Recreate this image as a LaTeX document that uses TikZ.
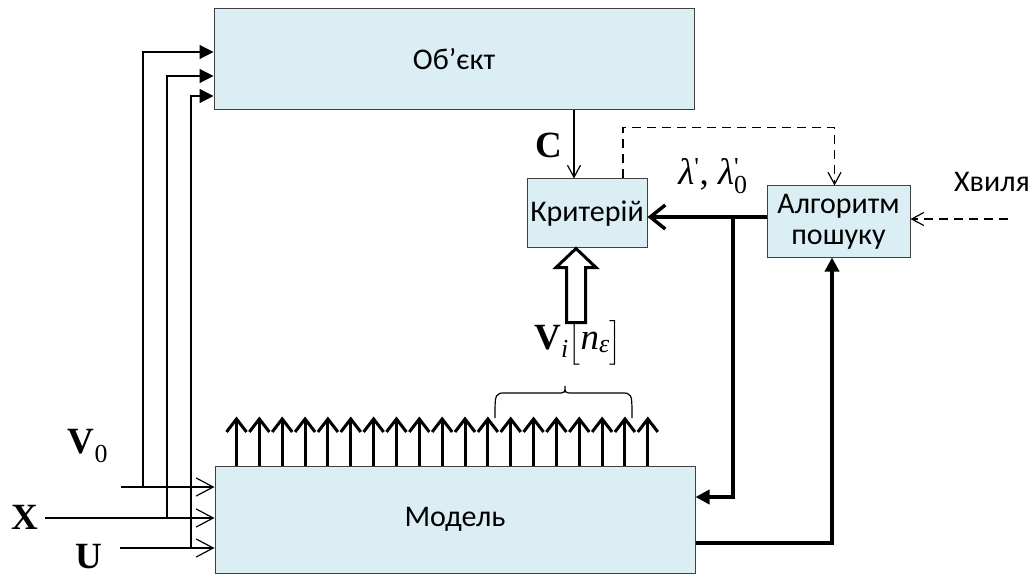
\documentclass[tikz,border=0pt]{standalone}
\usepackage{amsmath}
\usepackage{fontspec}
\setmainfont{Carlito}
\newfontfamily\tnr{Liberation Serif}
\usetikzlibrary{arrows.meta}
\definecolor{boxfill}{HTML}{DAEEF3}
\definecolor{boxline}{HTML}{404040}
\tikzset{
blk/.style={draw=boxline,fill=boxfill,line width=1pt,inner sep=0pt,font=\fontsize{30}{31}\selectfont},
lbl/.style={inner sep=0pt,font=\tnr\fontsize{37}{40}\selectfont},
wire/.style={line width=1.2pt},
bus/.style={line width=3.5pt},
dashline/.style={dash pattern=on 9pt off 6pt},
fin/.style={-{Triangle[length=14pt,width=14pt]}},
vin/.style={-{Straight Barb[length=17pt,width=18pt]}},
vsm/.style={-{Straight Barb[length=12pt,width=13pt]}},
vbig/.style={-{Straight Barb[length=15pt,width=24pt]}},
outarr/.style={line width=3pt,-{Straight Barb[length=13pt,width=20pt]}}
}
\begin{document}
\begin{tikzpicture}[x=1pt,y=-1pt]
\useasboundingbox (0,0) rectangle (1035,577);
\node[blk,minimum width=480pt,minimum height=101pt] (obj) at (454,59.5) {Об’єкт};
\node[blk,minimum width=120pt,minimum height=69pt] (crit) at (587,213.5) {Критерій};
\node[blk,minimum width=143pt,minimum height=71pt,align=center] (alg) at (838.5,221.5) {Алгоритм\\пошуку};
\node[blk,minimum width=480pt,minimum height=107pt] (model) at (455,519.5) {Модель};
\node[lbl] (lV0) at (88,446) {\textbf{V}\textsubscript{0}};
\node[lbl] (lX) at (25,517) {\textbf{X}};
\node[lbl] (lU) at (89,557) {\textbf{U}};
\node[lbl] (lC) at (549,145) {\textbf{C}};
\node[lbl] (llam) at (713,176) {\textit{λ}\textsuperscript{\textquotesingle}, \textit{λ}\rlap{\textsuperscript{\textquotesingle}}\textsubscript{0}};
\node[lbl] (lVi) at (578,343) {\textbf{V}\textsubscript{\textit{i}}$\Big[$\textit{n}\textsubscript{\textit{ε}}$\Big]$};
\node[inner sep=0pt,font=\fontsize{30}{31}\selectfont] (lwave) at (992,182) {Хвиля};
\coordinate (sV0) at (121,487);
\coordinate (sX) at (45,518);
\coordinate (sU) at (120,548);
\coordinate (jV0) at (143,487);
\coordinate (jX) at (167,518);
\coordinate (jU) at (191,548);
\draw[wire,vin] (sV0) -- (sV0 -| model.west);
\draw[wire,vin] (sX) -- (sX -| model.west);
\draw[wire,vin] (sU) -- (sU -| model.west);
\draw[wire,fin] (jV0) |- ([yshift=7.5pt]obj.west);
\draw[wire,fin] (jX) |- ([yshift=-16.5pt]obj.west);
\draw[wire,fin] (jU) |- ([yshift=-36.5pt]obj.west);
\draw[wire,vsm] ([xshift=-13pt]crit.north |- obj.south) -- ([xshift=-13pt]crit.north);
\draw[wire,dashline,vsm] ([xshift=36pt]crit.north) -- ++(0,-51) -| ([xshift=-4pt]alg.north);
\draw[bus,vbig] ([yshift=4.5pt]alg.west) -- ([yshift=4.5pt]alg.west -| crit.east);
\coordinate (jn) at (733,217);
\draw[bus,fin] (jn) |- ([yshift=22.5pt]model.east);
\draw[bus,fin] ([yshift=-23.5pt]model.east) -| ([xshift=-6.5pt]alg.south);
\coordinate (sw) at (1008,219);
\draw[wire,dashline,vsm] (sw) -- (sw -| alg.east);
\foreach \i in {0,...,18}
  \draw[outarr] ([xshift={22pt+22.85pt*\i}]model.north west) -- ++(0,-49);
\draw[line width=3pt,fill=white] ([xshift=-11pt]crit.south) -- ++(20,19) -- ++(-10.5,0) -- ++(0,55) -- ++(-19,0) -- ++(0,-55) -- ++(-10.5,0) -- cycle;
\draw[wire] (495,418) .. controls (495,393) and (495,393) .. (506,393) -- (557,393) .. controls (565,393) .. (565,386) .. controls (565,393) .. (573,393) -- (621,393) .. controls (632,393) and (632,393) .. (632,418);
\end{tikzpicture}
\end{document}
